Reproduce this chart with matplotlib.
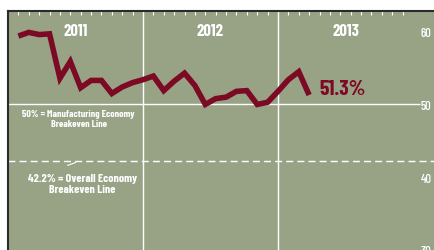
import numpy as np
import matplotlib
matplotlib.use("Agg")
import matplotlib.pyplot as plt
from matplotlib import font_manager

#PMI readings, one point per tick
pmi = [59.4, 59.9, 59.6, 59.7, 53.6, 55.9, 52.3, 53.3, 53.3, 51.5,
       52.4, 53.0, 53.4, 53.9, 51.9, 53.2, 54.3, 52.6, 50.0, 50.8,
       51.0, 51.8, 51.9, 50.0, 50.3, 51.8, 53.4, 54.5, 51.3]
years = ["2011", "2012", "2013"]
y_ticks = [30, 40, 50, 60]
last_label = "51.3%"
manuf_breakeven = 50
overall_breakeven = 42.2

bg = '#98a386'
maroon = '#7c0a24'

#pick a condensed face if the machine has one
installed = set(f.name for f in font_manager.fontManager.ttflist)
condensed = ['Barlow Condensed', 'Saira Condensed', 'Fjalla One', 'Roboto Condensed',
             'Liberation Sans Narrow', 'PT Sans Narrow']
font = [f for f in condensed if f in installed][:1]
scale = 1.0 if font else 0.6
font = font + ['DejaVu Sans']

#each year is split into 13 slots on this chart
slots = 13
x = np.arange(1, len(pmi) + 1)

fig = plt.figure(figsize=(4.35, 2.51), dpi=100)
ax = fig.add_axes([8/435, 0, 427/435, 239/251])
ax.set_facecolor(bg)
ax.set_xlim(0, 41.12)
ax.set_ylim(30.54, 62.84)

#borders
for s in ['right', 'bottom']:
    ax.spines[s].set_visible(False)
for s in ['top', 'left']:
    ax.spines[s].set_color('#2a2a2a')
    ax.spines[s].set_linewidth(1.5)

#small month ticks along the top, year lines between years
ticks = [k + slots*i for i in range(len(years)) for k in range(1, slots)]
ax.set_xticks(ticks)
ax.tick_params(axis='x', bottom=False, top=True, labelbottom=False, labeltop=False,
               direction='in', length=3, width=0.8, color='white')
for i in range(1, len(years)):
    ax.axvline(slots*i, color='white', lw=1)

#year labels
for i, yr in enumerate(years):
    ax.text(slots*i + slots/2, 60.1, yr, color='white', ha='center', va='center',
            fontsize=12*scale, fontweight='bold', family=font)

#y labels on the right, inside the plot
ax.set_yticks(y_ticks)
ax.set_yticklabels([str(v) for v in y_ticks], family=font, fontweight='medium')
ax.tick_params(axis='y', left=False, right=False, labelleft=False, labelright=True,
               length=0, pad=-10.5, labelsize=9*scale, labelcolor='white')

#breakeven lines
ax.hlines(manuf_breakeven, 0, 39.7, color='white', lw=1)
ax.axhline(overall_breakeven, color='white', lw=1, linestyle=(0, (5, 3)))

ax.text(6.79, 48.1, "50% = Manufacturing Economy\nBreakeven Line", color='white',
        ha='center', va='center', fontsize=7.2*scale, fontweight='bold', family=font,
        linespacing=1.15)
ax.text(7.17, 39.1, "42.2% = Overall Economy\nBreakeven Line", color='white',
        ha='center', va='center', fontsize=8.5*scale, fontweight='bold', family=font,
        linespacing=1.15)
ax.annotate("", xy=(6.77, 42.15), xytext=(5.49, 41.5),
            arrowprops=dict(arrowstyle='-', color='white', lw=0.8))

#the PMI line
ax.plot(x, pmi, color=maroon, lw=4, solid_joinstyle='miter', solid_capstyle='butt')
ax.text(x[-1] + 1.0, pmi[-1] + 0.9, last_label, color=maroon, ha='left', va='center',
        fontsize=15.5*scale, fontweight='bold', family=font)

fig.savefig("out.png", dpi=100)
